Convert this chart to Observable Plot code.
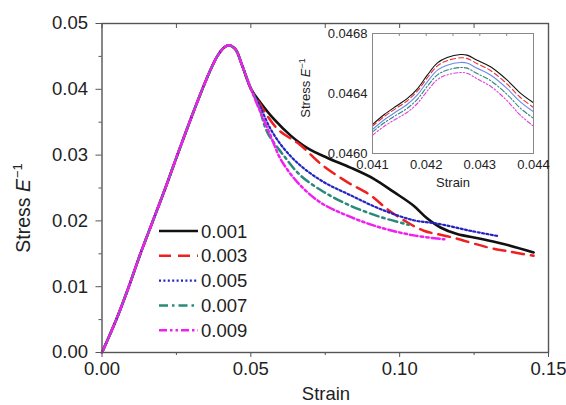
<!DOCTYPE html>
<html><head><meta charset="utf-8">
<script src="https://cdn.jsdelivr.net/npm/d3@7"></script>
<script src="https://cdn.jsdelivr.net/npm/@observablehq/plot@0.6"></script>
<style>
html,body{margin:0;padding:0;background:#fff;}
#wrap{position:relative;width:566px;height:405px;overflow:hidden;font-family:"Liberation Sans",Arial,sans-serif;}
#wrap svg{position:absolute;}
</style></head><body><div id="wrap"></div>
<script>
// ---------- data ----------
const seriesNames = ["0.001", "0.003", "0.005", "0.007", "0.009"];

// shared loading branch (all curves coincide)
const riseStrain = [0, 0.0048, 0.0090, 0.0129, 0.0171, 0.0213, 0.0253, 0.0294, 0.0337, 0.0365, 0.0387, 0.0409, 0.0426, 0.0448, 0.0471, 0.0500];
const riseStress = [0, 0.0050, 0.0100, 0.0150, 0.0200, 0.0250, 0.0300, 0.0350, 0.0400, 0.0430, 0.0450, 0.0463, 0.0467, 0.0461, 0.0436, 0.0401];

// softening branches
const tailStrain001 = [0.0532, 0.0577, 0.0633, 0.0689, 0.0756, 0.0835, 0.0913, 0.0980, 0.1047, 0.1092, 0.1137, 0.1193, 0.1271, 0.1349, 0.1450];
const tailStress001 = [0.0380, 0.0355, 0.0330, 0.0311, 0.0296, 0.0281, 0.0264, 0.0244, 0.0223, 0.0204, 0.0190, 0.0180, 0.0173, 0.0165, 0.0152];
const tailStrain003 = [0.0530, 0.0589, 0.0667, 0.0734, 0.0824, 0.0902, 0.0958, 0.1025, 0.1081, 0.1137, 0.1193, 0.1294, 0.1373, 0.1450];
const tailStress003 = [0.0378, 0.0340, 0.0315, 0.0287, 0.0259, 0.0239, 0.0218, 0.0198, 0.0185, 0.0179, 0.0173, 0.0160, 0.0153, 0.0147];
const tailStrain005 = [0.0528, 0.0566, 0.0611, 0.0667, 0.0745, 0.0835, 0.0935, 0.1047, 0.1125, 0.1237, 0.1330];
const tailStress005 = [0.0377, 0.0340, 0.0310, 0.0284, 0.0259, 0.0239, 0.0218, 0.0201, 0.0196, 0.0185, 0.0177];
const tailStrain007 = [0.0526, 0.0555, 0.0611, 0.0667, 0.0745, 0.0835, 0.0935, 0.1014, 0.1030];
const tailStress007 = [0.0375, 0.0335, 0.0299, 0.0269, 0.0244, 0.0223, 0.0206, 0.0196, 0.0194];
const tailStrain009 = [0.0524, 0.0566, 0.0600, 0.0656, 0.0734, 0.0835, 0.0935, 0.1047, 0.1150];
const tailStress009 = [0.0374, 0.0330, 0.0294, 0.0259, 0.0228, 0.0206, 0.0190, 0.0178, 0.0172];

// inset (peak region)
const insetStrain = [0.0410, 0.04122, 0.04146, 0.04165, 0.04184, 0.04202, 0.04221, 0.04239, 0.04264, 0.04276, 0.04295, 0.0432, 0.04351, 0.04375, 0.0440];
const insetStress001 = [0.046193, 0.04626, 0.04632, 0.046367, 0.046433, 0.046522, 0.046604, 0.04664, 0.04666, 0.046656, 0.046622, 0.046578, 0.046489, 0.046404, 0.046338];
const insetStress003 = [0.046182, 0.046247, 0.046306, 0.046352, 0.046417, 0.046504, 0.046584, 0.046619, 0.046638, 0.046634, 0.046599, 0.046553, 0.046462, 0.046375, 0.046307];
const insetStress005 = [0.04616, 0.046225, 0.046283, 0.046328, 0.046392, 0.046478, 0.046556, 0.046589, 0.046607, 0.046603, 0.046568, 0.046523, 0.046432, 0.046346, 0.046278];
const insetStress007 = [0.046144, 0.046205, 0.04626, 0.046302, 0.046363, 0.046447, 0.046524, 0.046556, 0.046573, 0.046569, 0.046533, 0.046486, 0.046393, 0.046304, 0.046234];
const insetStress009 = [0.046122, 0.046182, 0.046235, 0.046275, 0.046335, 0.046417, 0.046493, 0.046524, 0.04654, 0.046535, 0.046498, 0.046448, 0.046351, 0.046257, 0.046182];

// ticks
const xTicks = [0, 0.05, 0.10, 0.15];
const xTickLabels = ["0.00", "0.05", "0.10", "0.15"];
const xMinorTicks = [0.025, 0.075, 0.125];
const yTicks = [0, 0.01, 0.02, 0.03, 0.04, 0.05];
const yTickLabels = ["0.00", "0.01", "0.02", "0.03", "0.04", "0.05"];
const yMinorTicks = [0.005, 0.015, 0.025, 0.035, 0.045];
const insetXTicks = [0.041, 0.042, 0.043, 0.044];
const insetXTickLabels = ["0.041", "0.042", "0.043", "0.044"];
const insetXMinorTicks = [0.0415, 0.042, 0.0425, 0.043, 0.0435];
const insetYTicks = [0.0460, 0.0464, 0.0468];
const insetYTickLabels = ["0.0460", "0.0464", "0.0468"];

// ---------- styles ----------
const colors = ["#111111", "#ee2020", "#2424c4", "#2a8a7a", "#f020f0"];
const dashes = [undefined, "12,7", "2,2.4", "9,4,2.5,4", "8,3,2.5,3,2.5,3"];
const insetDashes = [undefined, "5,3", undefined, "5,2,1.5,2", "4,2,1.5,2,1.5,2"];
const insetColors = ["#111111", "#ee3030", "#6a8ae8", "#2a8a7a", "#e040e0"];
const widths = [2.6, 2.5, 2.2, 2.5, 2.5];
const font = "'Liberation Sans', Arial, sans-serif";

const tails = [
  [tailStrain001, tailStress001], [tailStrain003, tailStress003], [tailStrain005, tailStress005],
  [tailStrain007, tailStress007], [tailStrain009, tailStress009]
];
const insetStresses = [insetStress001, insetStress003, insetStress005, insetStress007, insetStress009];

function rows(strain, stress) { return strain.map((s, i) => ({strain: s, stress: stress[i]})); }

const mainSeries = seriesNames.map((name, k) =>
  rows(riseStrain.concat(tails[k][0]), riseStress.concat(tails[k][1])));
const insetSeries = seriesNames.map((name, k) => rows(insetStrain, insetStresses[k]));

const wrap = document.getElementById("wrap");
const axisColor = "#555";

// ---------- main chart ----------
const W = 566, H = 405, mL = 101.5, mR = 18, mT = 23, mB = 53;
const main = Plot.plot({
  width: W, height: H,
  marginLeft: mL, marginRight: mR, marginTop: mT, marginBottom: mB,
  style: {fontFamily: font, color: "#222", background: "white"},
  x: {domain: [0, 0.15]},
  y: {domain: [0, 0.05]},
  marks: [
    Plot.axisY({ticks: yTicks, tickFormat: d => yTickLabels[yTicks.indexOf(d)], tickSize: 6, tickPadding: 8, fontSize: 18.5, label: null, stroke: axisColor}),
    Plot.axisY({ticks: yMinorTicks, tickFormat: () => "", tickSize: 3, label: null, stroke: axisColor}),
    Plot.axisX({ticks: xTicks, tickFormat: d => xTickLabels[xTicks.indexOf(d)], tickSize: 5, tickPadding: 4, fontSize: 18.5, label: null, stroke: axisColor}),
    Plot.axisX({ticks: xMinorTicks, tickFormat: () => "", tickSize: 3, label: null, stroke: axisColor}),
    Plot.tickX(xTicks.concat(xMinorTicks), {x: d => d, insetBottom: H - mT - mB - 5, stroke: axisColor, strokeWidth: 1}),
    ...mainSeries.map((data, k) => Plot.line(data, {
      x: "strain", y: "stress", stroke: colors[k], strokeWidth: widths[k],
      strokeDasharray: dashes[k], curve: "catmull-rom"
    })),
    Plot.frame({stroke: axisColor, strokeWidth: 1.4})
  ]
});
main.style.left = "0px"; main.style.top = "0px";
wrap.appendChild(main);

const ms = d3.select(main);
// y label
const yl = ms.append("text")
  .attr("transform", "translate(30,208) rotate(-90)")
  .attr("text-anchor", "middle")
  .attr("font-family", font).attr("font-size", 19.5).attr("fill", "#222");
yl.append("tspan").text("Stress ");
yl.append("tspan").attr("font-style", "italic").text("E");
yl.append("tspan").attr("font-size", 13).attr("dy", -8).attr("dx", 1).text("−1");
// x label
ms.append("text").attr("x", 326).attr("y", 400).attr("text-anchor", "middle")
  .attr("font-family", font).attr("font-size", 18.5).attr("fill", "#222").text("Strain");

// legend
const lg = ms.append("g");
seriesNames.forEach((name, k) => {
  const yy = 231 + k * 24.8;
  lg.append("line").attr("x1", 159).attr("x2", 198).attr("y1", yy).attr("y2", yy)
    .attr("stroke", colors[k]).attr("stroke-width", widths[k])
    .attr("stroke-dasharray", dashes[k] || null);
  lg.append("text").attr("x", 201).attr("y", yy).attr("dy", "0.36em")
    .attr("text-anchor", "start")
    .attr("font-family", font).attr("font-size", 18.5).attr("fill", "#222").text(name);
});

// ---------- inset ----------
const iW = 270, iH = 175, iL = 92, iR = 17, iT = 13, iB = 42;
const inset = Plot.plot({
  width: iW, height: iH,
  marginLeft: iL, marginRight: iR, marginTop: iT, marginBottom: iB,
  style: {fontFamily: font, color: "#222", background: "transparent"},
  x: {domain: [0.041, 0.044]},
  y: {domain: [0.0460, 0.0468]},
  marks: [
    Plot.axisY({ticks: insetYTicks, tickFormat: d => insetYTickLabels[insetYTicks.indexOf(d)], tickSize: 0, tickPadding: 5, fontSize: 13, label: null}),
    Plot.axisX({ticks: insetXTicks, tickFormat: d => insetXTickLabels[insetXTicks.indexOf(d)], tickSize: 0, tickPadding: 6, fontSize: 13, label: null}),
    Plot.tickX(insetXMinorTicks, {x: d => d, insetBottom: iH - iT - iB - 3, stroke: "#888", strokeWidth: 1}),
    ...insetSeries.map((data, k) => Plot.line(data, {
      x: "strain", y: "stress", stroke: insetColors[k], strokeWidth: 1.1,
      strokeDasharray: insetDashes[k], curve: "catmull-rom"
    })),
    Plot.frame({stroke: "#888", strokeWidth: 1})
  ]
});
inset.style.left = "280px"; inset.style.top = "20px";
wrap.appendChild(inset);

const is = d3.select(inset);
const iyl = is.append("text")
  .attr("transform", "translate(30,68) rotate(-90)")
  .attr("text-anchor", "middle")
  .attr("font-family", font).attr("font-size", 13).attr("fill", "#222");
iyl.append("tspan").text("Stress ");
iyl.append("tspan").attr("font-style", "italic").text("E");
iyl.append("tspan").attr("font-size", 9).attr("dy", -5).text("−1");
is.append("text").attr("x", 173).attr("y", 167).attr("text-anchor", "middle")
  .attr("font-family", font).attr("font-size", 13).attr("fill", "#222").text("Strain");
</script></body></html>
